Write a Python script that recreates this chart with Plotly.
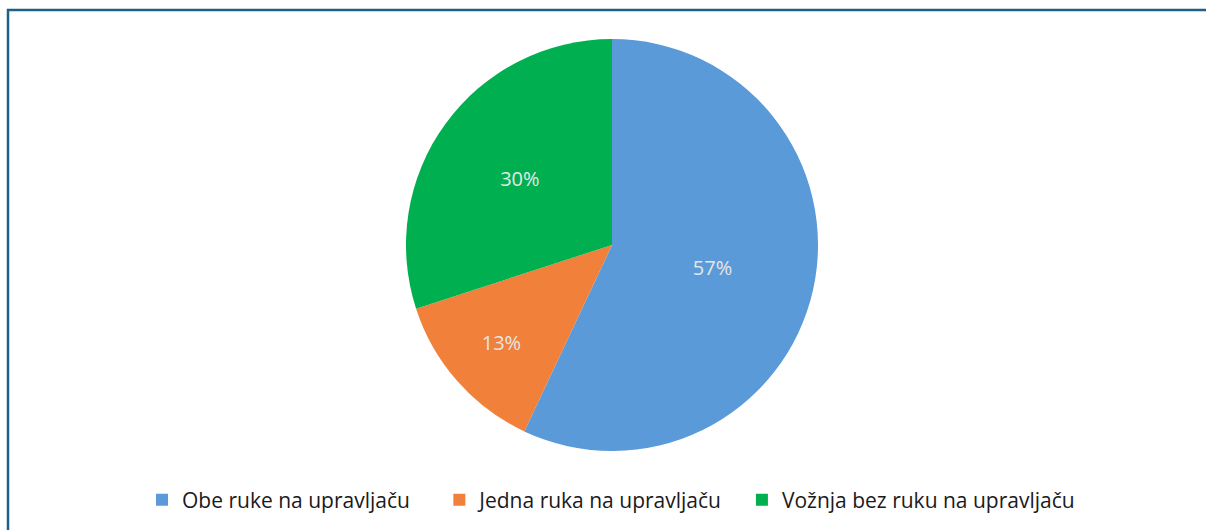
import plotly.graph_objects as go

labels = ["Obe ruke na upravljaču", "Jedna ruka na upravljaču", "Vožnja bez ruku na upravljaču"]
values = [57, 13, 30]
colors = ["#5A9AD8", "#F0803A", "#00B050"]

W, H = 1206, 530
cx, cy, r = 612, 245, 206

# extra spacing after legend entries (em/en/thin spaces)
pads = ["\u2003\u2009", "\u2002\u2009", ""]
legend_names = [lab + p for lab, p in zip(labels, pads)]

fig = go.Figure(go.Pie(
    labels=legend_names,
    values=values,
    sort=False,
    direction="clockwise",
    rotation=0,
    marker=dict(colors=colors, line=dict(width=0)),
    textinfo="percent",
    texttemplate="%{percent:.0%}",
    textposition="inside",
    insidetextorientation="horizontal",
    textfont=dict(family="Open Sans, Noto Sans, sans-serif", size=20, color="#E6E6E6"),
    hoverinfo="label+percent",
    domain=dict(x=[(cx - r) / W, (cx + r) / W], y=[1 - (cy + r) / H, 1 - (cy - r) / H]),
))

fig.update_layout(
    width=W, height=H,
    margin=dict(l=0, r=0, t=0, b=0),
    paper_bgcolor="white",
    plot_bgcolor="white",
    showlegend=True,
    legend=dict(
        orientation="h",
        x=142 / W, xanchor="left",
        y=1 - 500 / H, yanchor="middle",
        font=dict(family="Open Sans, Noto Sans, sans-serif", size=21, color="#1A1A1A"),
        tracegroupgap=0,
        itemwidth=30,
    ),
    shapes=[dict(
        type="rect", xref="paper", yref="paper",
        x0=8 / W, x1=1.05, y0=-0.05, y1=1 - 10 / H,
        line=dict(color="#1D6188", width=2.5),
        fillcolor="rgba(0,0,0,0)",
        layer="above",
    )],
)

fig.write_html(
    "out.html",
    config={"displayModeBar": False},
    post_script="document.body.style.margin='0';document.body.style.overflow='hidden';",
)
